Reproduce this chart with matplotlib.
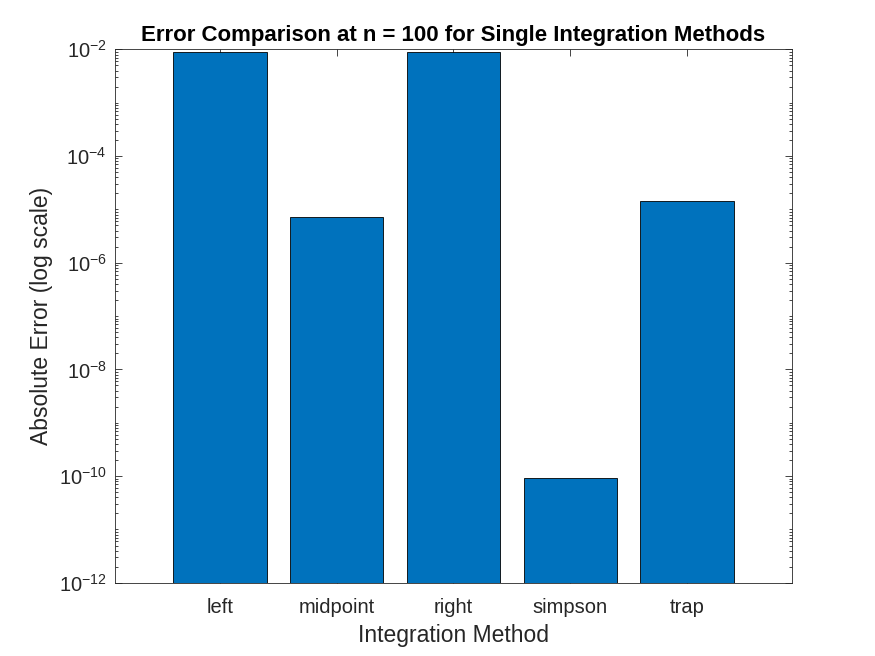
import numpy as np
import matplotlib
matplotlib.use('Agg')
import matplotlib.pyplot as plt
from matplotlib.ticker import LogLocator, FixedLocator, FuncFormatter, NullFormatter

# Dane
methods = ['left', 'midpoint', 'right', 'simpson', 'trap']
errors = [8.8e-3, 7.2e-6, 8.8e-3, 9.1e-11, 1.42e-5]

plt.rcParams['font.family'] = ['Liberation Sans', 'DejaVu Sans']
plt.rcParams['mathtext.fontset'] = 'custom'
plt.rcParams['mathtext.rm'] = 'Liberation Sans'

fig = plt.figure(figsize=(8.75, 6.56), dpi=100)
ax = fig.add_axes([0.1314, 0.1116, 0.7737, 0.8132])

x = np.arange(1, len(methods) + 1)
ax.bar(x, errors, width=0.8, color='#0072BD', edgecolor='black', linewidth=0.6,
       bottom=1e-12, zorder=2)

ax.set_yscale('log')
ax.set_ylim(1e-12, 1e-2)
ax.set_xlim(0.1, 5.9)
ax.set_xticks(x)
ax.set_xticklabels(methods)

ax.yaxis.set_major_locator(FixedLocator([10.0 ** e for e in range(-12, -1, 2)]))
ax.yaxis.set_major_formatter(FuncFormatter(
    lambda v, p: r'$\mathregular{10^{%d}}$' % int(round(np.log10(v)))))
ax.yaxis.set_minor_locator(LogLocator(base=10, subs=np.arange(1, 10), numticks=50))
ax.yaxis.set_minor_formatter(NullFormatter())

ax.tick_params(which='both', direction='in', top=True, right=True,
               colors='#262626', labelsize=14.5, width=0.6)
ax.tick_params(which='major', length=5)
ax.tick_params(which='minor', length=2.5)
ax.tick_params(axis='x', pad=11)
ax.tick_params(axis='y', pad=6)
for s in ax.spines.values():
    s.set_linewidth(0.6)
    s.set_color('#262626')

ax.set_title('Error Comparison at n = 100 for Single Integration Methods',
             fontsize=16, fontweight='bold', color='black', pad=6)
ax.set_xlabel('Integration Method', fontsize=16.5, color='#262626', labelpad=5)
ax.set_ylabel('Absolute Error (log scale)', fontsize=16.5, color='#262626', labelpad=4)

plt.savefig('out.png', dpi=100)
plt.close()
